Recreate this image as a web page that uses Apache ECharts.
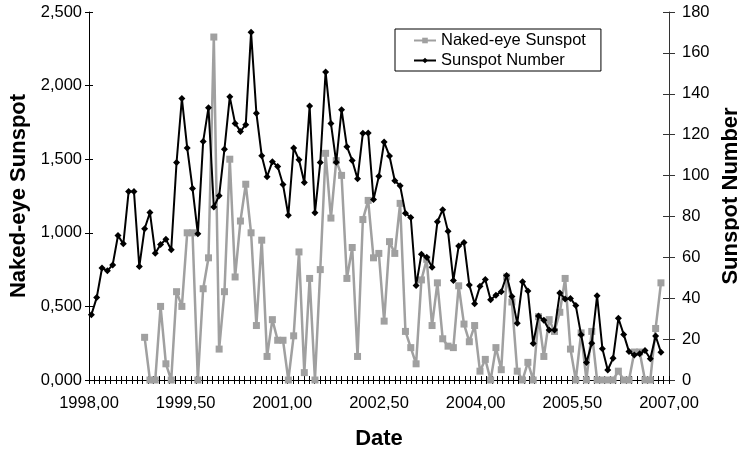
<!DOCTYPE html>
<html><head><meta charset="utf-8">
<script src="https://cdn.jsdelivr.net/npm/echarts@6/dist/echarts.min.js"></script>
<style>html,body{margin:0;padding:0;background:#fff}#c{width:739px;height:449px}</style>
</head><body><div id="c"></div>
<script>
// Monthly sunspot number, Jan 1998 .. Dec 2006 (right axis)
const sunspotNumber = [
  31.9, 40.3, 54.8, 53.4, 56.3, 70.7, 66.6, 92.2, 92.2, 55.5, 74.0, 81.9,
  62.0, 66.3, 68.8, 63.7, 106.4, 137.7, 113.5, 93.7, 71.5, 116.7, 133.2, 84.6,
  90.1, 112.9, 138.5, 125.5, 121.6, 124.9, 170.1, 130.5, 109.7, 99.4, 106.8, 104.4,
  95.6, 80.6, 113.5, 107.7, 96.6, 134.0, 81.8, 106.4, 150.7, 125.5, 106.5, 132.2,
  114.1, 107.4, 98.4, 120.7, 120.8, 88.3, 99.6, 116.4, 109.6, 97.5, 95.0, 81.6,
  79.5, 46.2, 61.5, 60.0, 55.2, 77.4, 83.3, 72.7, 48.7, 65.5, 67.3, 46.5,
  37.3, 45.8, 49.1, 39.3, 41.5, 43.2, 51.1, 40.9, 27.7, 48.0, 43.5, 17.9,
  31.3, 29.2, 24.5, 24.4, 42.6, 39.6, 39.9, 36.4, 22.1, 8.5, 18.0, 41.2,
  15.3, 4.9, 10.6, 30.2, 22.3, 13.9, 12.2, 12.9, 14.4, 10.4, 21.5, 13.6
];
// Naked-eye sunspot index, same months (left axis); null = no observation
const nakedEye = [
  null, null, null, null, null, null, null, null, null, null, 0.29, 0,
  0, 0.50, 0.11, 0, 0.60, 0.50, 1.00, 1.00, 0, 0.62, 0.83, 2.33,
  0.21, 0.60, 1.50, 0.70, 1.08, 1.33, 1.00, 0.37, 0.95, 0.16, 0.41, 0.27,
  0.27, 0, 0.30, 0.87, 0.05, 0.69, 0, 0.75, 1.54, 1.10, 1.49, 1.39,
  0.69, 0.90, 0.16, 1.09, 1.22, 0.83, 0.86, 0.40, 0.94, 0.86, 1.20, 0.33,
  0.22, 0.11, 0.68, 0.82, 0.37, 0.66, 0.28, 0.23, 0.22, 0.64, 0.38, 0.26,
  0.37, 0.06, 0.14, 0, 0.22, 0.07, 0.70, 0.53, 0.06, 0, 0.12, 0,
  0.43, 0.16, 0.41, 0.33, 0.46, 0.69, 0.21, 0, 0.32, 0, 0.33, 0,
  0, 0, 0, 0.06, 0, 0, 0.19, 0.19, 0, 0, 0.35, 0.66
];
// decimal dates of the monthly observations
const firstDate = 1998.037, monthStep = 0.0826;
const dates = sunspotNumber.map((_, i) => +(firstDate + i * monthStep).toFixed(4));

const seriesNames = ['Naked-eye Sunspot', 'Sunspot Number'];
const xRange = { min: 1998, max: 2007, interval: 1.5 };
const leftRange = { min: 0, max: 2.5, interval: 0.5 };
const rightRange = { min: 0, max: 180, interval: 20 };
const xAxisTitle = 'Date', leftTitle = 'Naked-eye Sunspot', rightTitle = 'Sunspot Number';

const FONT = '"Liberation Sans", Arial, Helvetica, sans-serif';
const grayData = [];
nakedEye.forEach((v, i) => { if (v !== null) grayData.push([dates[i], v]); });
const blackData = sunspotNumber.map((v, i) => [dates[i], v]);

const chart = echarts.init(document.getElementById('c'), null, { renderer: 'canvas' });
const commaFmt = (d) => (v) => v.toFixed(d).replace('.', ',');

chart.setOption({
  animation: false,
  backgroundColor: '#fff',
  textStyle: { fontFamily: FONT },
  grid: { left: 89, right: 70, top: 12, bottom: 69, containLabel: false, outerBoundsMode: 'none' },
  legend: {
    data: seriesNames, orient: 'vertical', left: 395, top: 29,
    padding: [3, 15, 2, 18], itemGap: 3, itemWidth: 22, itemHeight: 7,
    backgroundColor: '#fff', borderColor: '#000', borderWidth: 1, borderRadius: 0,
    textStyle: { fontSize: 16.5, color: '#000', fontFamily: FONT }
  },
  xAxis: [
    {
      type: 'value', position: 'bottom', min: xRange.min, max: xRange.max, interval: xRange.interval,
      axisLine: { show: true, lineStyle: { color: '#000', width: 1 } },
      axisTick: { show: true, inside: false, length: 4, lineStyle: { color: '#000' } },
      minorTick: { show: true, splitNumber: 18, length: 4, lineStyle: { color: '#000' } },
      splitLine: { show: false }, minorSplitLine: { show: false },
      axisLabel: { formatter: commaFmt(2), fontSize: 16.5, color: '#000', margin: 15, fontFamily: FONT },
      name: xAxisTitle, nameLocation: 'middle', nameGap: 48,
      nameTextStyle: { fontSize: 22, fontWeight: 'bold', color: '#000', fontFamily: FONT }
    },
    {
      type: 'value', position: 'bottom', min: xRange.min, max: xRange.max, interval: xRange.interval,
      axisLine: { show: false },
      axisTick: { show: true, inside: true, length: 4, lineStyle: { color: '#000' } },
      minorTick: { show: true, splitNumber: 18, length: 4, lineStyle: { color: '#000' } },
      splitLine: { show: false }, axisLabel: { show: false }
    }
  ],
  yAxis: [
    {
      type: 'value', position: 'left', min: leftRange.min, max: leftRange.max, interval: leftRange.interval,
      axisLine: { show: true, lineStyle: { color: '#000' } },
      axisTick: { show: true, inside: false, length: 4, lineStyle: { color: '#000' } },
      splitLine: { show: false },
      axisLabel: { formatter: commaFmt(3), fontSize: 16.5, color: '#000', margin: 7, fontFamily: FONT },
      name: leftTitle, nameLocation: 'middle', nameGap: 57, nameRotate: 90,
      nameTextStyle: { fontSize: 22, fontWeight: 'bold', color: '#000', fontFamily: FONT }
    },
    {
      type: 'value', position: 'right', min: rightRange.min, max: rightRange.max, interval: rightRange.interval,
      axisLine: { show: true, lineStyle: { color: '#333' } },
      axisTick: { show: true, inside: false, length: 6, lineStyle: { color: '#333' } },
      splitLine: { show: false },
      axisLabel: { fontSize: 16.5, color: '#000', margin: 13, fontFamily: FONT },
      name: rightTitle, nameLocation: 'middle', nameGap: 51, nameRotate: 90,
      nameTextStyle: { fontSize: 22, fontWeight: 'bold', color: '#000', fontFamily: FONT }
    },
    {
      type: 'value', position: 'left', min: leftRange.min, max: leftRange.max, interval: leftRange.interval,
      axisLine: { show: false },
      axisTick: { show: true, inside: true, length: 4, lineStyle: { color: '#000' } },
      splitLine: { show: false }, axisLabel: { show: false }
    },
    {
      type: 'value', position: 'right', min: rightRange.min, max: rightRange.max, interval: rightRange.interval,
      axisLine: { show: false },
      axisTick: { show: true, inside: true, length: 6, lineStyle: { color: '#333' } },
      splitLine: { show: false }, axisLabel: { show: false }
    }
  ],
  series: [
    {
      name: seriesNames[0], type: 'line', xAxisIndex: 0, yAxisIndex: 0, data: grayData,
      symbol: 'rect', symbolSize: 7, showAllSymbol: true,
      lineStyle: { color: '#a0a0a0', width: 2.5 }, itemStyle: { color: '#a0a0a0' }, z: 2
    },
    {
      name: seriesNames[1], type: 'line', xAxisIndex: 0, yAxisIndex: 1, data: blackData,
      symbol: 'diamond', symbolSize: 7, showAllSymbol: true,
      lineStyle: { color: '#000', width: 2 }, itemStyle: { color: '#000' }, z: 3
    }
  ]
});
</script>
</body></html>
